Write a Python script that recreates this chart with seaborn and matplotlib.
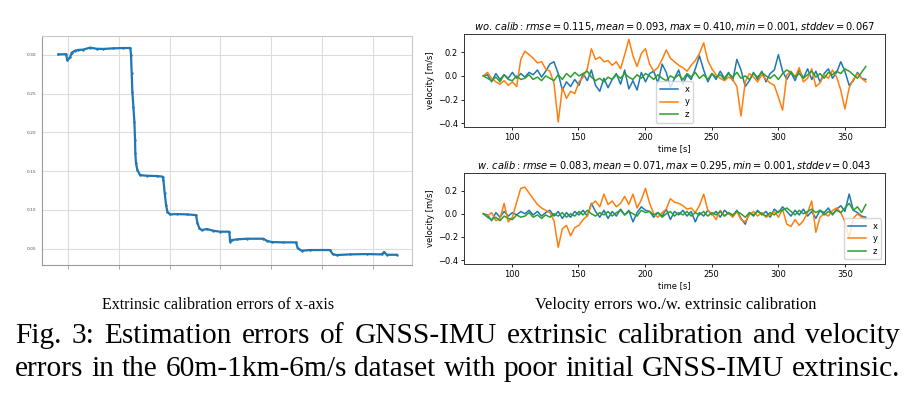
import numpy as np
import pandas as pd
import matplotlib
matplotlib.use("Agg")
import matplotlib.pyplot as plt
import seaborn as sns

# ---------------- data ----------------
# Left panel: extrinsic calibration error of x-axis (x in tick units, unlabeled axis)
calib_step = [-0.183, -0.033, -0.007, 0.046, 0.079, 0.144, 0.210, 0.308, 0.439, 0.570,
              0.701, 0.897, 1.094, 1.231, 1.244, 1.257, 1.270, 1.290, 1.310, 1.323,
              1.329, 1.342, 1.369, 1.421, 1.552, 1.749, 1.866, 1.880, 1.906, 1.932,
              1.958, 2.010, 2.141, 2.338, 2.521, 2.547, 2.587, 2.633, 2.731, 2.862,
              2.993, 3.176, 3.189, 3.222, 3.320, 3.517, 3.844, 3.910, 4.008, 4.237,
              4.486, 4.519, 4.597, 4.761, 5.154, 5.206, 5.285, 5.547, 5.874, 6.169,
              6.215, 6.267, 6.464]
calib_err = [0.3008, 0.3010, 0.2930, 0.2970, 0.3030, 0.3056, 0.3065, 0.3070, 0.3095, 0.3080,
             0.3078, 0.3086, 0.3090, 0.3090, 0.3000, 0.2763, 0.2527, 0.2333, 0.2140, 0.1900,
             0.1730, 0.1600, 0.1516, 0.1450, 0.1442, 0.1438, 0.1430, 0.1386, 0.1214, 0.1064,
             0.0978, 0.0943, 0.0947, 0.0943, 0.0934, 0.0836, 0.0762, 0.0741, 0.0754, 0.0732,
             0.0720, 0.0720, 0.0590, 0.0612, 0.0620, 0.0629, 0.0629, 0.0603, 0.0586, 0.0582,
             0.0582, 0.0505, 0.0474, 0.0483, 0.0483, 0.0431, 0.0418, 0.0427, 0.0431, 0.0427,
             0.0457, 0.0422, 0.0422]
calib_yticks = [0.05, 0.10, 0.15, 0.20, 0.25, 0.30]

# Right panels: velocity errors
time_s = [78.7, 81.8, 84.9, 88.1, 91.2, 94.3, 97.4, 100.5, 103.7, 106.8,
          109.9, 113.0, 116.1, 119.3, 122.4, 125.5, 128.6, 131.7, 134.9, 138.0,
          141.1, 144.2, 147.3, 150.5, 153.6, 156.7, 159.8, 162.9, 166.1, 169.2,
          172.3, 175.4, 178.5, 181.7, 184.8, 187.9, 191.0, 194.1, 197.3, 200.4,
          203.5, 206.6, 209.7, 212.9, 216.0, 219.1, 222.2, 225.3, 228.5, 231.6,
          234.7, 237.8, 240.9, 244.1, 247.2, 250.3, 253.4, 256.5, 259.7, 262.8,
          265.9, 269.0, 272.1, 275.3, 278.4, 281.5, 284.6, 287.7, 290.9, 294.0,
          297.1, 300.2, 303.3, 306.5, 309.6, 312.7, 315.8, 318.9, 322.1, 325.2,
          328.3, 331.4, 334.5, 337.7, 340.8, 343.9, 347.0, 350.1, 353.3, 356.4,
          359.5, 362.6, 365.8]

wo_x = [0.00, 0.01, -0.05, 0.02, -0.03, 0.01, -0.02, 0.03, -0.02, 0.02,
        -0.01, 0.03, 0.01, 0.05, -0.01, 0.04, 0.10, 0.12, 0.02, -0.12,
        -0.05, -0.09, -0.03, -0.08, 0.02, -0.04, 0.05, -0.08, -0.13, -0.02,
        -0.10, -0.03, 0.02, -0.07, 0.05, -0.11, -0.04, -0.12, 0.03, -0.05,
        0.02, 0.04, -0.06, 0.10, 0.03, -0.10, -0.02, 0.05, -0.07, 0.01,
        -0.03, 0.06, 0.17, 0.05, -0.05, 0.02, -0.03, 0.04, -0.02, 0.03,
        -0.04, 0.14, 0.05, -0.09, -0.04, 0.03, -0.03, 0.04, -0.05, 0.02,
        0.05, 0.18, 0.04, -0.03, 0.03, -0.04, 0.05, -0.02, 0.06, -0.03,
        0.04, -0.05, 0.02, 0.06, -0.02, 0.03, 0.12, 0.04, -0.08, -0.04,
        0.03, -0.02, -0.03]
wo_y = [0.00, 0.03, -0.02, -0.05, -0.07, -0.04, -0.08, -0.05, -0.09, 0.14,
        0.21, 0.18, 0.15, 0.11, 0.12, 0.06, 0.04, -0.06, -0.39, -0.10,
        -0.19, -0.13, -0.15, -0.05, -0.01, 0.06, 0.23, 0.14, 0.16, 0.12,
        0.13, 0.09, 0.12, 0.06, 0.18, 0.31, 0.17, 0.08, 0.19, 0.23,
        0.10, 0.04, 0.07, 0.14, 0.22, 0.15, 0.12, 0.09, 0.07, 0.04,
        0.09, 0.13, 0.19, 0.28, 0.13, 0.06, 0.01, -0.02, -0.04, -0.01,
        -0.03, -0.09, -0.34, -0.05, 0.02, -0.01, -0.05, 0.01, -0.03, -0.06,
        -0.08, -0.18, -0.29, 0.01, 0.04, -0.01, 0.07, -0.05, -0.02, 0.06,
        -0.09, -0.06, 0.01, -0.02, 0.05, -0.01, -0.12, -0.28, -0.10, -0.03,
        0.02, -0.02, -0.05]
wo_z = [0.00, -0.02, -0.04, -0.01, -0.05, 0.01, -0.03, -0.04, 0.00, -0.03,
        -0.02, 0.01, -0.03, -0.01, -0.04, 0.00, -0.02, -0.04, 0.01, -0.03,
        0.02, -0.01, 0.03, 0.00, 0.02, 0.04, -0.01, -0.04, -0.02, -0.05,
        -0.01, -0.03, 0.01, -0.02, 0.02, -0.01, -0.03, 0.01, -0.02, 0.02,
        0.00, -0.03, 0.01, -0.02, -0.04, 0.00, -0.02, 0.01, -0.03, 0.02,
        -0.01, 0.03, -0.02, 0.01, -0.03, 0.02, -0.01, 0.01, -0.03, 0.02,
        -0.01, 0.03, -0.02, 0.00, -0.03, 0.02, -0.01, 0.03, 0.00, -0.02,
        0.01, -0.03, 0.02, 0.05, 0.03, -0.01, 0.02, -0.02, 0.01, 0.04,
        -0.01, 0.02, -0.02, 0.03, 0.01, 0.04, 0.02, 0.06, 0.04, 0.01,
        -0.02, 0.03, 0.08]

w_x = [0.00, -0.01, -0.06, 0.01, -0.03, 0.02, -0.02, 0.01, -0.01, 0.02,
       0.00, 0.03, -0.01, 0.02, -0.02, 0.01, 0.03, -0.02, 0.02, -0.04,
       0.01, -0.03, 0.02, -0.01, 0.03, -0.02, 0.09, 0.02, -0.03, 0.03,
       -0.04, 0.02, -0.02, 0.04, -0.01, 0.03, -0.07, 0.01, 0.06, 0.03,
       0.02, -0.03, 0.01, -0.02, 0.04, -0.05, 0.02, -0.01, 0.03, -0.02,
       0.02, -0.07, 0.01, -0.02, 0.03, -0.01, 0.02, -0.03, 0.03, 0.00,
       -0.02, 0.03, -0.04, -0.09, 0.01, -0.02, 0.03, -0.01, 0.02, -0.03,
       0.04, 0.01, 0.06, 0.02, -0.02, 0.03, -0.01, 0.04, -0.02, 0.02,
       -0.04, 0.03, 0.01, 0.05, -0.01, 0.04, 0.07, 0.02, 0.17, 0.03,
       0.01, -0.02, -0.03]
w_y = [0.00, -0.02, 0.01, -0.06, -0.04, 0.09, -0.07, -0.03, 0.10, 0.22,
       0.23, 0.18, 0.13, 0.08, 0.05, 0.03, 0.01, -0.06, -0.29, -0.13,
       -0.10, -0.19, -0.12, -0.10, -0.05, -0.02, 0.08, 0.11, 0.06, 0.17,
       0.08, 0.11, 0.06, 0.09, 0.15, 0.08, 0.17, 0.05, 0.12, 0.22,
       0.09, 0.00, -0.03, 0.01, 0.04, 0.13, 0.10, 0.09, 0.07, 0.04,
       0.05, 0.01, 0.07, 0.17, 0.03, 0.00, -0.05, 0.03, -0.02, 0.01,
       -0.03, 0.02, -0.05, -0.07, -0.01, 0.02, -0.02, 0.01, -0.03, -0.01,
       0.02, -0.03, 0.04, -0.09, -0.11, -0.05, -0.10, -0.06, 0.01, 0.11,
       -0.16, -0.03, 0.00, -0.02, 0.03, 0.05, 0.01, -0.07, -0.21, -0.04,
       0.00, -0.03, -0.05]
w_z = [0.00, -0.03, -0.05, -0.03, -0.06, -0.02, -0.04, -0.05, -0.01, -0.03,
       -0.02, 0.01, -0.03, -0.01, -0.04, -0.01, -0.03, 0.00, -0.02, 0.01,
       -0.03, 0.00, -0.02, 0.02, -0.01, 0.03, 0.00, -0.02, 0.01, -0.01,
       0.02, -0.02, 0.01, 0.03, -0.01, 0.02, 0.00, -0.02, 0.03, 0.01,
       0.02, -0.01, 0.01, -0.03, 0.00, 0.02, -0.02, 0.01, -0.01, 0.02,
       -0.02, 0.01, -0.01, 0.02, -0.02, 0.01, -0.01, 0.02, -0.02, 0.01,
       -0.01, 0.02, 0.00, -0.03, 0.01, -0.01, 0.02, 0.00, -0.02, 0.01,
       -0.01, 0.02, 0.03, 0.05, 0.02, -0.01, 0.03, 0.00, 0.02, 0.04,
       0.01, 0.03, -0.01, 0.02, 0.00, 0.03, 0.01, 0.05, 0.09, 0.03,
       0.06, 0.01, 0.08]

series_names = ["x", "y", "z"]
series_colors = ["#1f77b4", "#ff7f0e", "#2ca02c"]
vel_xticks = [100, 150, 200, 250, 300, 350]
vel_yticks = [-0.4, -0.2, 0.0, 0.2]
title_wo = r"$wo.\,calib: rmse = 0.115, mean = 0.093, max = 0.410, min = 0.001, stddev = 0.067$"
title_w = r"$w.\,calib: rmse = 0.083, mean = 0.071, max = 0.295, min = 0.001, stddev = 0.043$"
sub_left = "Extrinsic calibration errors of x-axis"
sub_right = "Velocity errors wo./w. extrinsic calibration"
caption_lines = ["Fig. 3: Estimation errors of GNSS-IMU extrinsic calibration and velocity",
                 "errors in the 60m-1km-6m/s dataset with poor initial GNSS-IMU extrinsic."]

# ---------------- figure ----------------
W, H = 914, 396
fig = plt.figure(figsize=(W / 100, H / 100), dpi=100)
fig.patch.set_facecolor("white")

def px_axes(left, top, right, bottom):
    return fig.add_axes([left / W, 1 - bottom / H, (right - left) / W, (bottom - top) / H])

# ---- left panel ----
axl = px_axes(42, 36, 412, 265)
sns.lineplot(x=calib_step, y=calib_err, ax=axl, color="#1f77b4", linewidth=1.6,
             marker=".", markersize=3.5, markeredgewidth=0, sort=False)
axl.set_xlim(-0.505, 6.764)
axl.set_ylim(0.029, 0.3245)
axl.set_xticks(range(7))
axl.set_xticklabels([])
axl.set_yticks(calib_yticks)
axl.set_yticklabels([f"{v:.2f}" for v in calib_yticks])
axl.grid(True, color="#dcdcdc", linewidth=0.8)
axl.set_axisbelow(True)
axl.tick_params(axis="x", length=3, width=0.6, color="#999999")
axl.tick_params(axis="y", length=0, labelsize=3.2, labelcolor="#555555", pad=4)
for side, sp in axl.spines.items():
    sp.set_color("#999999" if side in ("left", "bottom") else "#c8c8c8")
    sp.set_linewidth(0.8)
axl.set_xlabel("")
axl.set_ylabel("")

# ---- right panels ----
TICK_FS = 6.0
def vel_panel(top, bottom, xs, title, legend_loc):
    ax = px_axes(464.3, top, 885, bottom)
    for vals, name, col in zip(xs, series_names, series_colors):
        sns.lineplot(x=time_s, y=vals, ax=ax, color=col, linewidth=1.1, label=name)
    ax.set_xlim(64.4, 380.2)
    ax.set_ylim(-0.43, 0.355)
    ax.set_xticks(vel_xticks)
    ax.set_yticks(vel_yticks)
    ax.set_yticklabels([f"{v:.1f}".replace("-", "\u2212") for v in vel_yticks])
    ax.tick_params(labelsize=TICK_FS, length=2.5, width=0.6, pad=2)
    for sp in ax.spines.values():
        sp.set_linewidth(0.7)
        sp.set_color("#333333")
    ax.set_xlabel("time [s]", fontsize=TICK_FS, labelpad=1.5)
    ax.set_ylabel("velocity [m/s]", fontsize=TICK_FS, labelpad=2)
    ax.set_title(title, fontsize=7.1, pad=3)
    ax.legend(loc=legend_loc, fontsize=TICK_FS, handlelength=2.2, borderpad=0.4,
              labelspacing=0.45, frameon=True, framealpha=0.8)
    return ax

ax1 = vel_panel(34, 126.7, [wo_x, wo_y, wo_z], title_wo, "lower center")
ax2 = vel_panel(172.7, 263.5, [w_x, w_y, w_z], title_w, "lower right")

# ---- captions ----
serif = "Liberation Serif"
fig.canvas.draw()
renderer = fig.canvas.get_renderer()

def fitted_text(x_px, baseline_px, s, target_w, ha="center"):
    t = fig.text(x_px / W, 1 - baseline_px / H, s, ha=ha, va="baseline",
                 fontsize=10, family=serif)
    w = t.get_window_extent(renderer).width
    t.set_fontsize(10 * target_w / w)
    return t

fitted_text(218.5, 309.3, sub_left, 233)
fitted_text(675.5, 309.3, sub_right, 281)

# main caption: size chosen so that the widest line fits, then justified
probe = [fig.text(0, 0, ln, fontsize=20, family=serif) for ln in caption_lines]
nat = max(p.get_window_extent(renderer).width for p in probe)
for p in probe:
    p.remove()
cap_size = 20 * 880 / nat

def justify_line(line, baseline_px, x0_px, x1_px, size):
    words = line.split()
    txts = [fig.text(0, 1 - baseline_px / H, w, fontsize=size, family=serif,
                     va="baseline", ha="left") for w in words]
    widths = [t.get_window_extent(renderer).width for t in txts]
    gap = (x1_px - x0_px - sum(widths)) / (len(words) - 1)
    x = x0_px
    for t, w in zip(txts, widths):
        t.set_x(x / W)
        x += w + gap

justify_line(caption_lines[0], 342.7, 15, 900, cap_size)
justify_line(caption_lines[1], 376.0, 15, 900, cap_size)

fig.savefig("out.png", dpi=100, facecolor="white")
